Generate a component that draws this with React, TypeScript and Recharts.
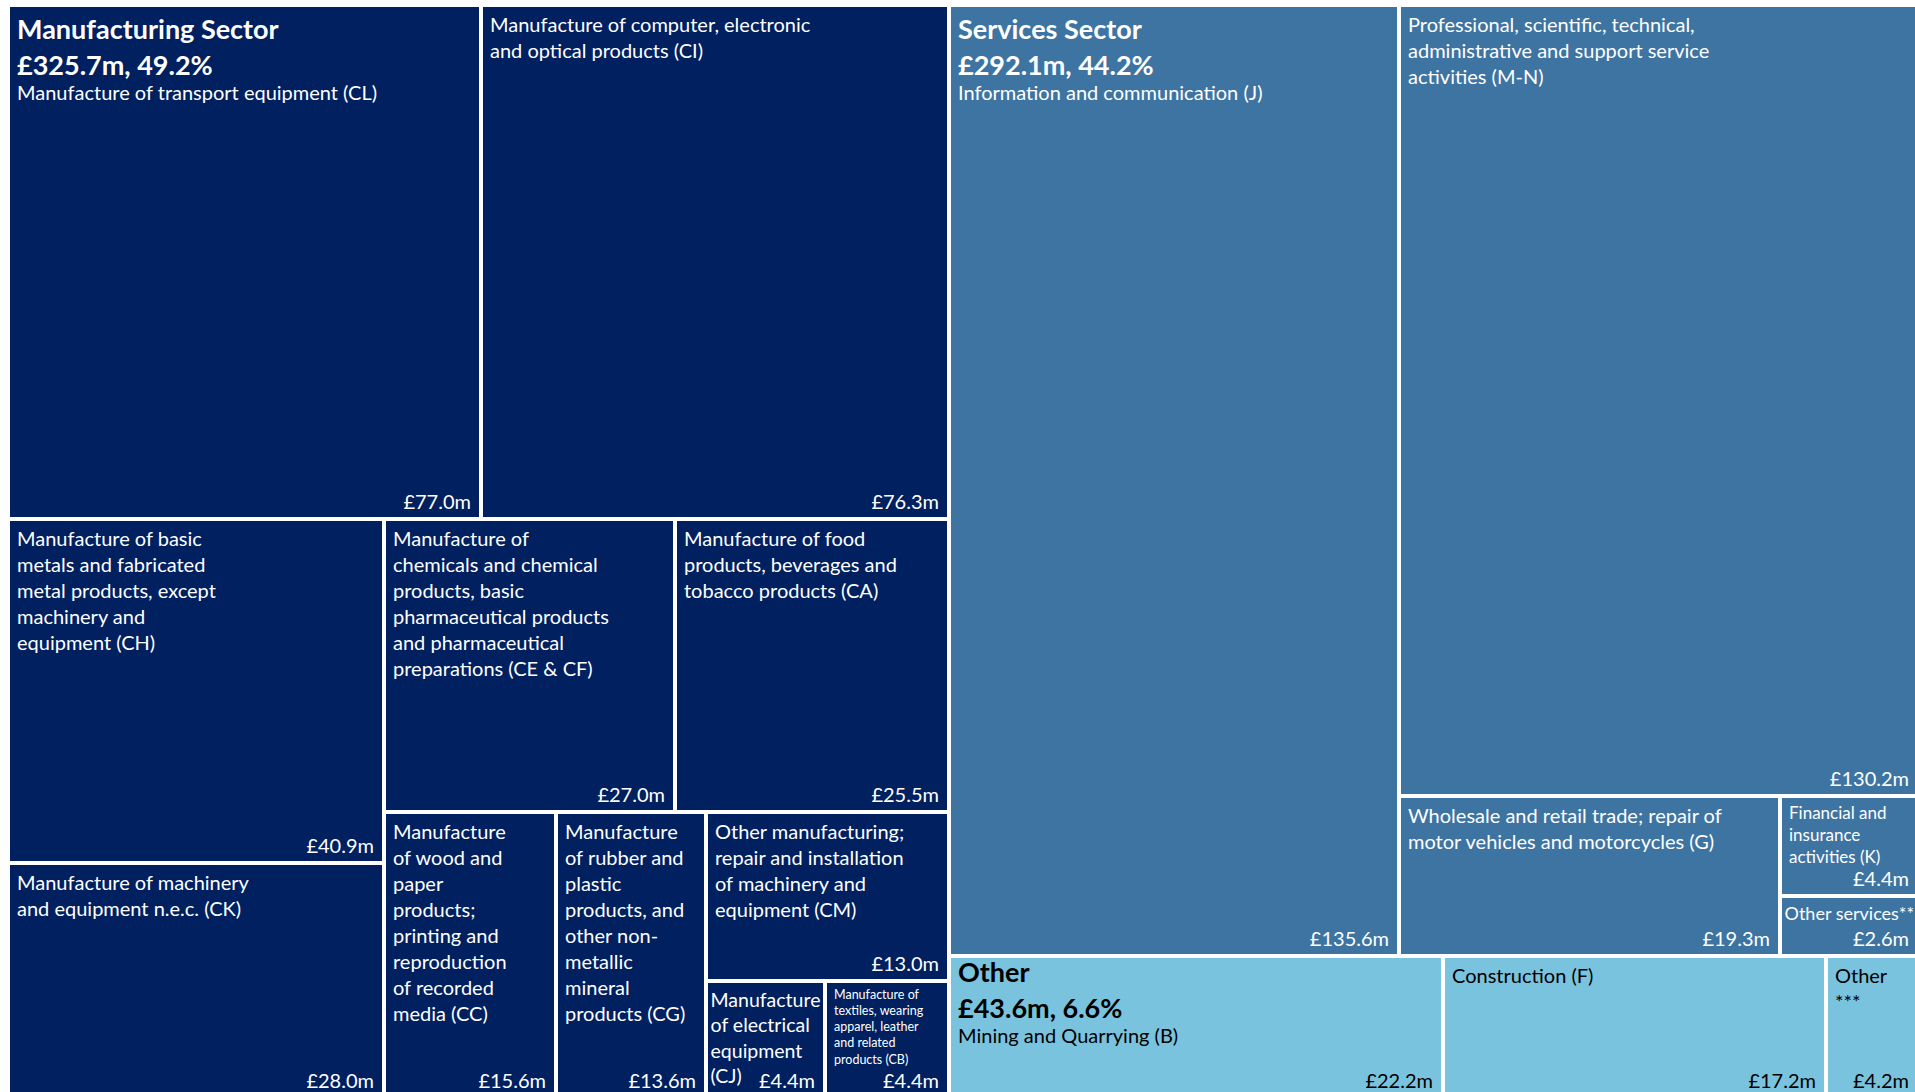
import React from 'react';
import { Treemap } from 'recharts';

// sectors, in the order the treemap lays them out
const sectorNames = ['Manufacturing Sector', 'Services Sector', 'Other'];

// line breaks follow the labels as they appear in the source chart
const manufacturingLabels = [
  'Manufacture of transport equipment (CL)',
  'Manufacture of computer, electronic\nand optical products (CI)',
  'Manufacture of basic\nmetals and fabricated\nmetal products, except\nmachinery and\nequipment (CH)',
  'Manufacture of machinery\nand equipment n.e.c. (CK)',
  'Manufacture of\nchemicals and chemical\nproducts, basic\npharmaceutical products\nand pharmaceutical\npreparations (CE & CF)',
  'Manufacture of food\nproducts, beverages and\ntobacco products (CA)',
  'Manufacture\nof wood and\npaper\nproducts;\nprinting and\nreproduction\nof recorded\nmedia (CC)',
  'Manufacture\nof rubber and\nplastic\nproducts, and\nother non-\nmetallic\nmineral\nproducts (CG)',
  'Other manufacturing;\nrepair and installation\nof machinery and\nequipment (CM)',
  'Manufacture\nof electrical\nequipment\n(CJ)',
  'Manufacture of\ntextiles, wearing\napparel, leather\nand related\nproducts (CB)',
];
const manufacturingValues = [77.0, 76.3, 40.9, 28.0, 27.0, 25.5, 15.6, 13.6, 13.0, 4.4, 4.4];

const servicesLabels = [
  'Information and communication (J)',
  'Professional, scientific, technical,\nadministrative and support service\nactivities (M-N)',
  'Wholesale and retail trade; repair of\nmotor vehicles and motorcycles (G)',
  'Financial and\ninsurance\nactivities (K)',
  'Other services**',
];
const servicesValues = [135.6, 130.2, 19.3, 4.4, 2.6];

const otherLabels = ['Mining and Quarrying (B)', 'Construction (F)', 'Other\n***'];
const otherValues = [22.2, 17.2, 4.2];

const sectorLabels = [manufacturingLabels, servicesLabels, otherLabels];
const sectorValues = [manufacturingValues, servicesValues, otherValues];

const sectorFill: Record<string, string> = {
  'Manufacturing Sector': '#002060',
  'Services Sector': '#3E74A2',
  Other: '#7AC3DF',
};
const sectorInk: Record<string, string> = {
  'Manufacturing Sector': '#FFFFFF',
  'Services Sector': '#FFFFFF',
  Other: '#000000',
};

const sectorTotals = sectorValues.map((vals) => vals.reduce((a, b) => a + b, 0));
const grandTotal = sectorTotals.reduce((a, b) => a + b, 0);

const treeData = sectorNames.map((sector, i) => ({
  name: sector,
  children: sectorLabels[i].map((label, j) => ({
    name: label,
    size: sectorValues[i][j],
    sector,
    sectorTotal: sectorTotals[i],
  })),
}));

const FONT = 'Lato, sans-serif';
const BASE = 20;
const TITLE = 27;

let ctx: CanvasRenderingContext2D | null = null;
function textWidth(text: string, size: number, weight = 'normal') {
  if (!ctx) ctx = document.createElement('canvas').getContext('2d');
  if (!ctx) return text.length * size * 0.5;
  ctx.font = `${weight} ${size}px Lato`;
  return ctx.measureText(text).width;
}

const firstLine = (s: number) => s * 1.2 + 2.5;

// shrink the label until it fits the cell and sits above (or beside) the value
function fitSize(lines: string[], width: number, height: number, valueW: number) {
  const valueBase = height - 10;
  for (let s = BASE; s > 8; s -= 0.5) {
    const lh = s * 1.3;
    const last = firstLine(s) + (lines.length - 1) * lh;
    const widest = Math.max(...lines.map((l) => textWidth(l, s)));
    const lastW = textWidth(lines[lines.length - 1], s);
    const shares = lastW + valueW + 12 <= width - 18;
    const limit = shares ? valueBase + 2 : valueBase - BASE * 1.1;
    if (last <= limit && widest <= width - 8) return s;
  }
  return 8;
}

function CellContent(props: any) {
  const { depth, x, y, width, height, name, value, index, sector, sectorTotal } = props;
  if (depth !== 2) return null;
  const fill = sectorFill[sector];
  const ink = sectorInk[sector];
  const lines = String(name).split('\n');
  const valueText = `£${value.toFixed(1)}m`;
  const valueW = textWidth(valueText, BASE);

  let labels: React.ReactNode;
  if (index === 0) {
    const tx = x + 9;
    const titleBase = height > 300 ? 33.5 : 26;
    const amountBase = titleBase + 36;
    const subBase = amountBase + 25;
    const amount = `£${sectorTotal.toFixed(1)}m, ${((sectorTotal / grandTotal) * 100).toFixed(1)}%`;
    labels = (
      <>
        <text x={tx} y={y + titleBase} fill={ink} fontFamily={FONT} fontWeight="bold" fontSize={TITLE}>
          {sector}
        </text>
        <text x={tx} y={y + amountBase} fill={ink} fontFamily={FONT} fontWeight="bold" fontSize={TITLE}>
          {amount}
        </text>
        {lines.map((line, i) => (
          <text key={i} x={tx} y={y + subBase + i * BASE * 1.3} fill={ink} fontFamily={FONT} fontSize={BASE}>
            {line}
          </text>
        ))}
      </>
    );
  } else {
    const s = fitSize(lines, width, height, valueW);
    const widest = Math.max(...lines.map((l) => textWidth(l, s)));
    // tight cells get a smaller left inset, as in the source
    const tx = x + Math.min(9, Math.max(4, (width - widest) / 2));
    labels = lines.map((line, i) => (
      <text key={i} x={tx} y={y + firstLine(s) + i * s * 1.3} fill={ink} fontFamily={FONT} fontSize={s}>
        {line}
      </text>
    ));
  }

  return (
    <g>
      <rect x={x} y={y} width={width} height={height} fill={fill} stroke="#FFFFFF" strokeWidth={4} />
      {labels}
      <text
        x={x + width - 10}
        y={y + height - 10}
        textAnchor="end"
        fill={ink}
        fontFamily={FONT}
        fontSize={BASE}
      >
        {valueText}
      </text>
    </g>
  );
}

export default function App() {
  return (
    <div style={{ position: 'fixed', left: 0, top: 0, width: 1915, height: 1092, overflow: 'hidden', background: '#FFFFFF' }}>
      <div style={{ position: 'absolute', left: 8, top: 5 }}>
        <Treemap
          width={1911}
          height={1093}
          data={treeData}
          dataKey="size"
          nameKey="name"
          aspectRatio={0.85}
          isAnimationActive={false}
          content={<CellContent />}
        />
      </div>
    </div>
  );
}
